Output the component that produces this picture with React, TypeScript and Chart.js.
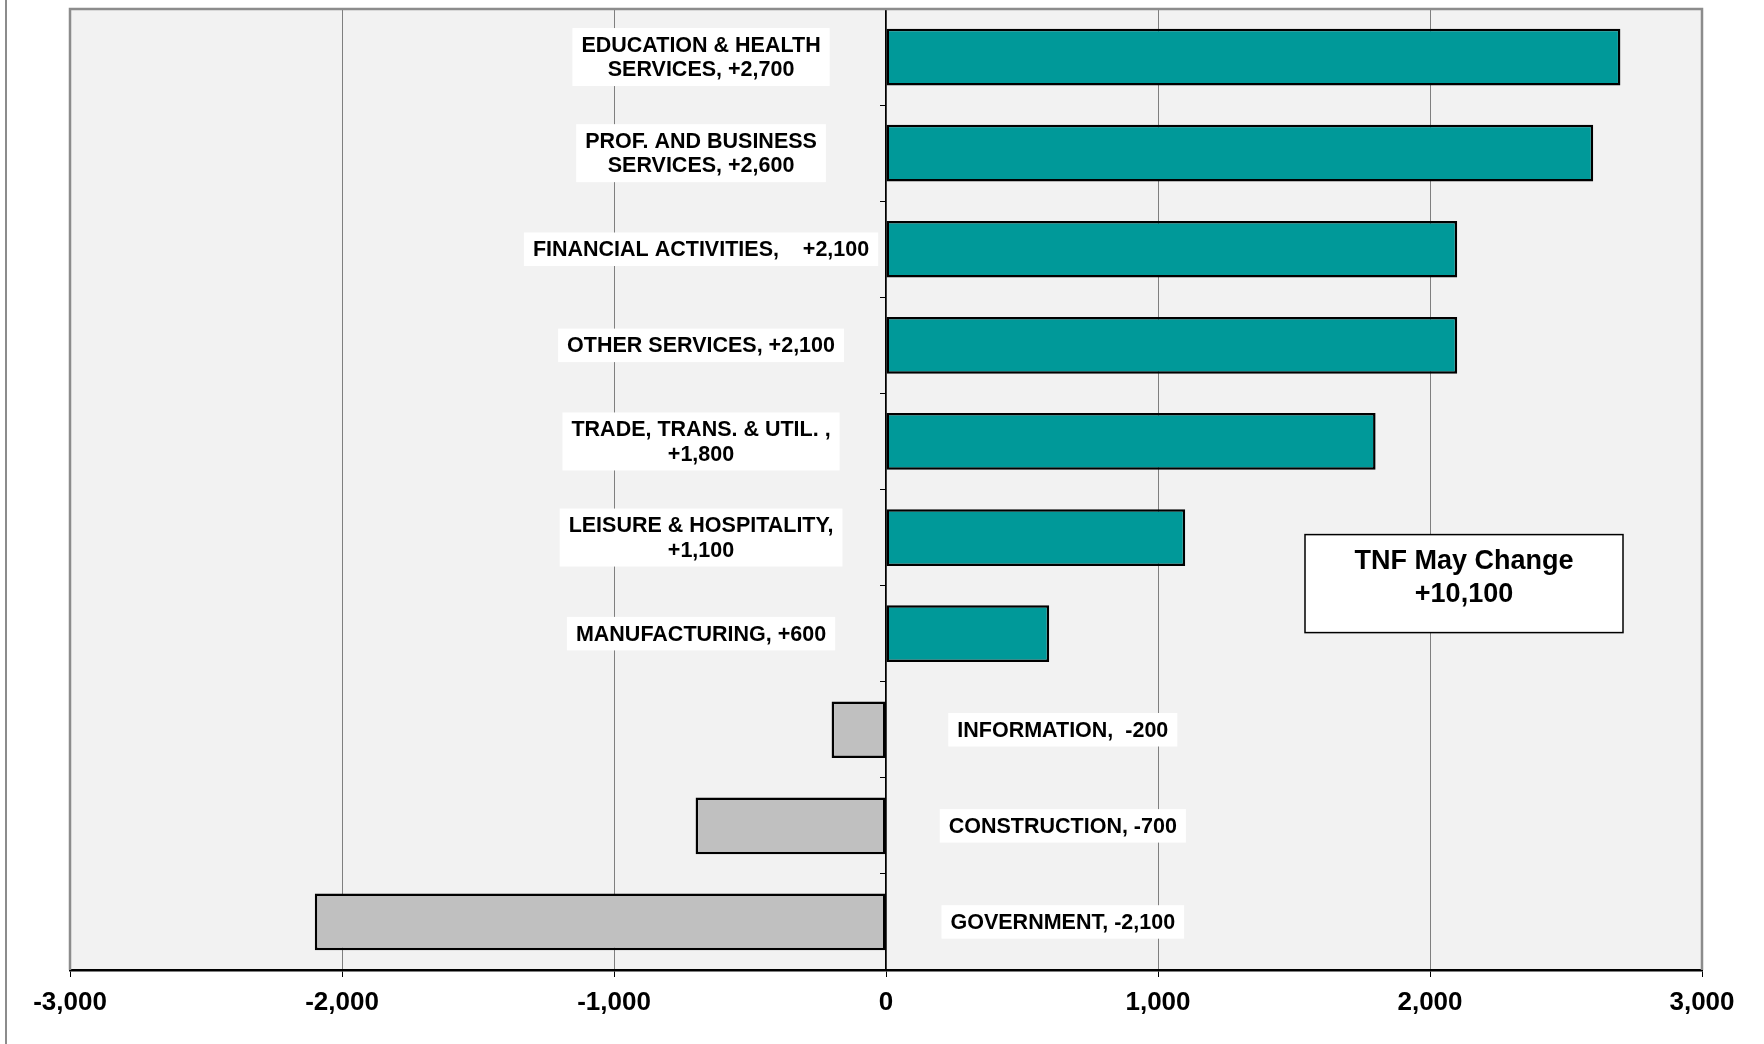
import React, { useEffect, useRef } from "react";
import { Chart, registerables } from "chart.js";

Chart.register(...registerables);

const categories = [
  "Education & Health Services",
  "Prof. and Business Services",
  "Financial Activities",
  "Other Services",
  "Trade, Trans. & Util.",
  "Leisure & Hospitality",
  "Manufacturing",
  "Information",
  "Construction",
  "Government",
];
const changes = [2700, 2600, 2100, 2100, 1800, 1100, 600, -200, -700, -2100];
const labelLines = [
  ["EDUCATION & HEALTH", "SERVICES, +2,700"],
  ["PROF. AND BUSINESS", "SERVICES, +2,600"],
  ["FINANCIAL ACTIVITIES,    +2,100"],
  ["OTHER SERVICES, +2,100"],
  ["TRADE, TRANS. & UTIL. ,", "+1,800"],
  ["LEISURE & HOSPITALITY,", "+1,100"],
  ["MANUFACTURING, +600"],
  ["INFORMATION,  -200"],
  ["CONSTRUCTION, -700"],
  ["GOVERNMENT, -2,100"],
];
const xMin = -3000;
const xMax = 3000;
const xStep = 1000;
const totalTitle = "TNF May Change";
const totalValue = "+10,100";

const FONT = "'Liberation Sans', Arial, Helvetica, sans-serif";
const W = 1764;
const H = 1044;

const backgroundPlugin = {
  id: "bgPlugin",
  beforeDraw(chart: any) {
    const { ctx, chartArea } = chart;
    ctx.save();
    ctx.fillStyle = "#ffffff";
    ctx.fillRect(0, 0, chart.width, chart.height);
    ctx.strokeStyle = "#8c8c8c";
    ctx.lineWidth = 2;
    ctx.beginPath();
    ctx.moveTo(6, 0);
    ctx.lineTo(6, chart.height);
    ctx.stroke();
    ctx.fillStyle = "#f2f2f2";
    ctx.fillRect(chartArea.left, chartArea.top, chartArea.right - chartArea.left, chartArea.bottom - chartArea.top);
    ctx.restore();
  },
  beforeDatasetsDraw(chart: any) {
    const { ctx, chartArea } = chart;
    ctx.save();
    ctx.strokeStyle = "#8c8c8c";
    ctx.lineWidth = 2.5;
    ctx.beginPath();
    ctx.moveTo(chartArea.left, chartArea.bottom);
    ctx.lineTo(chartArea.left, chartArea.top);
    ctx.lineTo(chartArea.right, chartArea.top);
    ctx.lineTo(chartArea.right, chartArea.bottom);
    ctx.stroke();
    ctx.restore();
  },
};

const labelsPlugin = {
  id: "labelsPlugin",
  afterDatasetsDraw(chart: any) {
    const { ctx } = chart;
    const xScale = chart.scales.x;
    const yScale = chart.scales.y;
    const meta = chart.getDatasetMeta(0);
    ctx.save();
    ctx.font = `bold 21.5px ${FONT}`;
    ctx.textAlign = "center";
    ctx.textBaseline = "middle";
    const lh = 24.5;
    meta.data.forEach((bar: any, i: number) => {
      const lines = labelLines[i];
      const cx = xScale.getPixelForValue(changes[i] >= 0 ? -680 : 650);
      const cy = bar.y;
      const tw = Math.max(...lines.map((l: string) => ctx.measureText(l).width));
      const bw = tw + 18;
      const bh = lines.length * lh + 9;
      ctx.fillStyle = "#ffffff";
      ctx.fillRect(cx - bw / 2, cy - bh / 2, bw, bh);
      ctx.fillStyle = "#000000";
      lines.forEach((l: string, j: number) => {
        ctx.fillText(l, cx, cy - ((lines.length - 1) * lh) / 2 + j * lh + 1);
      });
    });

    // total box
    const bx = xScale.getPixelForValue(2125);
    const by = (yScale.getPixelForValue(5) + yScale.getPixelForValue(6)) / 2 - 2;
    const bw = 318;
    const bh = 98;
    ctx.fillStyle = "#ffffff";
    ctx.fillRect(bx - bw / 2, by - bh / 2, bw, bh);
    ctx.strokeStyle = "#000000";
    ctx.lineWidth = 1.5;
    ctx.strokeRect(bx - bw / 2, by - bh / 2, bw, bh);
    ctx.fillStyle = "#000000";
    ctx.font = `bold 27px ${FONT}`;
    ctx.fillText(totalTitle, bx, by - 22);
    ctx.fillText(totalValue, bx, by + 11);
    ctx.restore();
  },
};

export default function App() {
  const ref = useRef<HTMLCanvasElement | null>(null);
  useEffect(() => {
    if (!ref.current) return;
    const chart = new Chart(ref.current, {
      type: "bar",
      data: {
        labels: categories,
        datasets: [
          {
            data: changes,
            backgroundColor: changes.map((v) => (v >= 0 ? "#009999" : "#c0c0c0")),
            borderColor: "#000000",
            borderWidth: 2.5,
            borderSkipped: false,
            barPercentage: 0.59,
            categoryPercentage: 1,
          },
        ],
      },
      options: {
        indexAxis: "y",
        animation: false,
        responsive: false,
        devicePixelRatio: 1,
        layout: { padding: { left: 70, right: 62, top: 9, bottom: 0 } },
        plugins: { legend: { display: false }, tooltip: { enabled: false } },
        scales: {
          x: {
            type: "linear",
            min: xMin,
            max: xMax,
            afterFit(scale: any) {
              scale.height = 74;
            },
            ticks: {
              stepSize: xStep,
              color: "#000000",
              padding: 10,
              font: { family: FONT, size: 26, weight: "bold" },
              callback: (v: any) => Number(v).toLocaleString("en-US"),
            },
            grid: {
              color: "#7f7f7f",
              lineWidth: 1,
              drawTicks: true,
              tickLength: 7,
              tickColor: "#000000",
            },
            border: { display: true, color: "#000000", width: 2.5 },
          },
          y: {
            type: "category",
            position: { x: 0 } as any,
            ticks: { display: false },
            grid: {
              drawOnChartArea: false,
              drawTicks: true,
              tickLength: 5,
              tickColor: "#000000",
              lineWidth: 1,
            },
            border: { display: true, color: "#000000", width: 1.5 },
          },
        },
      } as any,
      plugins: [backgroundPlugin, labelsPlugin],
    });
    return () => chart.destroy();
  }, []);
  return (
    <div style={{ position: "absolute", left: 0, top: 0, width: W, height: H, background: "#fff" }}>
      <canvas ref={ref} width={W} height={H} style={{ width: W, height: H, display: "block" }} />
    </div>
  );
}
